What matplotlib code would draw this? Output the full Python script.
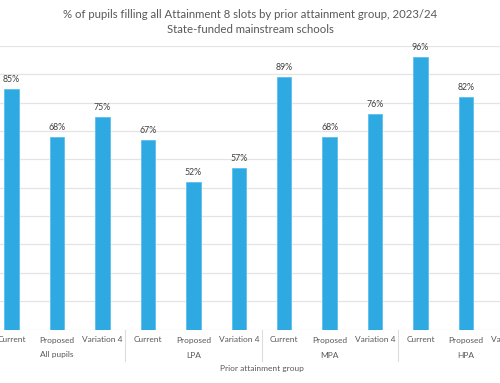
import matplotlib
matplotlib.use("Agg")
import matplotlib.pyplot as plt
from matplotlib.lines import Line2D

plt.rcParams['font.family'] = ['Lato', 'DejaVu Sans']

groups = ["All pupils", "LPA", "MPA", "HPA"]
measures = ["Current", "Proposed", "Variation 4"]
values = [85, 68, 75, 67, 52, 57, 89, 68, 76, 96, 82, 87]
title = "% of pupils filling all Attainment 8 slots by prior attainment group, 2023/24\nState-funded mainstream schools"
xlabel = "Prior attainment group"

bar_color = "#2EA9E1"
text_color = "#595959"

fig = plt.figure(figsize=(5.0, 3.83), dpi=100)
W, H = 500, 383
left_px, right_px = -11.2, 534.2
top_px, bot_px = 46.0, 329.5
ax = fig.add_axes([left_px / W, 1 - bot_px / H, (right_px - left_px) / W, (bot_px - top_px) / H])

n = len(values)
x = list(range(n))
ax.bar(x, values, width=0.32, color=bar_color, edgecolor="#5BC0EE", linewidth=0.6, zorder=3)
ax.set_xlim(-0.5, n - 0.5)
ax.set_ylim(0, 100)
ax.set_yticks(range(0, 101, 10))
ax.yaxis.grid(True, color="#E4E4E4", linewidth=0.9, zorder=0)
ax.set_yticklabels([])
ax.tick_params(axis="both", length=0)
for s in ax.spines.values():
    s.set_visible(False)

for xi, v in zip(x, values):
    ax.annotate(f"{v}%", (xi, v), xytext=(0, 3.5), textcoords="offset points",
                ha="center", va="bottom", fontsize=6.3, color="#404040")

ax.set_xticks([])
axh = bot_px - top_px
tr = ax.get_xaxis_transform()
for i in range(n):
    ax.text(i, -(340 - bot_px) / axh, measures[i % 3], transform=tr, ha="center", va="center",
            fontsize=6.0, color=text_color, clip_on=False)
for g, name in enumerate(groups):
    ax.text(g * 3 + 1, -(355 - bot_px) / axh, name, transform=tr, ha="center", va="center",
            fontsize=6.0, color=text_color, clip_on=False)
for g in range(len(groups) + 1):
    xb = g * 3 - 0.5
    ax.add_line(Line2D([xb, xb], [0, -(361 - bot_px) / axh], transform=tr, color="#DDDDDD",
                       linewidth=0.8, clip_on=False))
ax.text(0.5, -(368 - bot_px) / axh, xlabel, transform=ax.transAxes, ha="center", va="center",
        fontsize=6.0, color=text_color)

fig.text(0.5, 1 - 22 / H, title, ha="center", va="center", fontsize=8.2, color=text_color,
         linespacing=1.35)

fig.savefig("out.png", dpi=100)
